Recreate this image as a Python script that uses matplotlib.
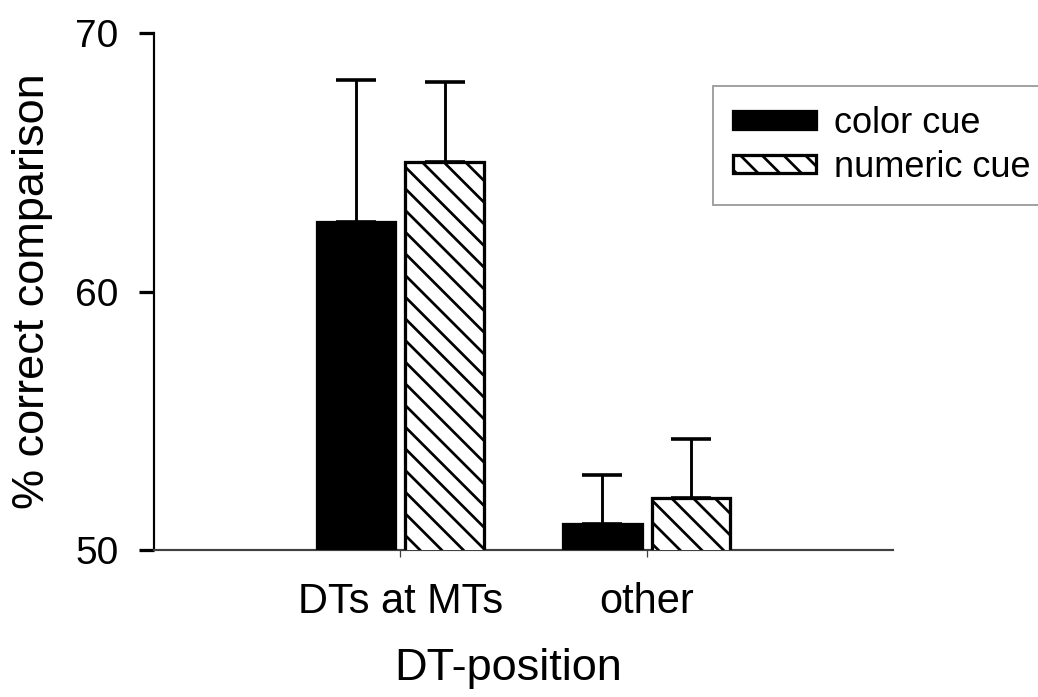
import matplotlib
matplotlib.use("Agg")
import matplotlib.pyplot as plt
import numpy as np

plt.rcParams['font.family'] = ['Liberation Sans', 'DejaVu Sans']
plt.rcParams['hatch.linewidth'] = 1.5

# data
categories = ["DTs at MTs", "other"]
series = ["color cue", "numeric cue"]
means = {"color cue": [62.7, 51.0], "numeric cue": [65.0, 52.0]}
errors = {"color cue": [5.5, 1.9], "numeric cue": [3.1, 2.3]}
yticks = [50, 60, 70]

DPI = 130
fig = plt.figure(figsize=(1038 / DPI, 697 / DPI), dpi=DPI)
ax = fig.add_axes([154 / 1038, 1 - 550 / 697, 739 / 1038, 517 / 697])

x = np.arange(len(categories))
width = 0.32
offsets = [-0.18, 0.18]
styles = [dict(facecolor="black", hatch=None), dict(facecolor="white", hatch="\\\\")]

for s, off, st in zip(series, offsets, styles):
    ax.bar(x + off, means[s], width, bottom=0, facecolor=st["facecolor"], hatch=st["hatch"],
           edgecolor="black", linewidth=1.8, label=s, zorder=3)
    ax.errorbar(x + off, means[s], yerr=[np.zeros(len(x)), errors[s]], fmt="none",
                ecolor="black", elinewidth=1.6, capsize=11, capthick=2.0, zorder=2)

ax.set_xlim(-1, 2)
ax.set_ylim(50, 70)
ax.set_yticks(yticks)
ax.set_xticks(x)
ax.set_xticklabels(categories, fontsize=23)
ax.tick_params(axis="y", labelsize=21.5, length=8.3, width=1.8, pad=11.5)
ax.tick_params(axis="x", length=3.9, width=0.7, color="#404040", pad=14)

ax.spines["top"].set_visible(False)
ax.spines["right"].set_visible(False)
ax.spines["left"].set_linewidth(1.2)
ax.spines["bottom"].set_linewidth(1.2)
ax.spines["bottom"].set_color("#404040")

ax.set_ylabel("% correct comparison", fontsize=25)
ax.set_xlabel("DT-position", fontsize=25)
ax.yaxis.set_label_coords(-0.137, 0.5)
ax.xaxis.set_label_coords(0.479, -0.19)

leg = ax.legend(loc="upper left", bbox_to_anchor=(713 / 1038, 1 - 86 / 697),
                bbox_transform=fig.transFigure, borderaxespad=0, fontsize=20,
                handlelength=2.3, handleheight=0.4, handletextpad=0.5,
                labelspacing=0.25, borderpad=0.55, fancybox=False, frameon=True)
leg.get_frame().set_edgecolor("#808080")
leg.get_frame().set_linewidth(1.0)

fig.savefig("out.png", dpi=DPI)
